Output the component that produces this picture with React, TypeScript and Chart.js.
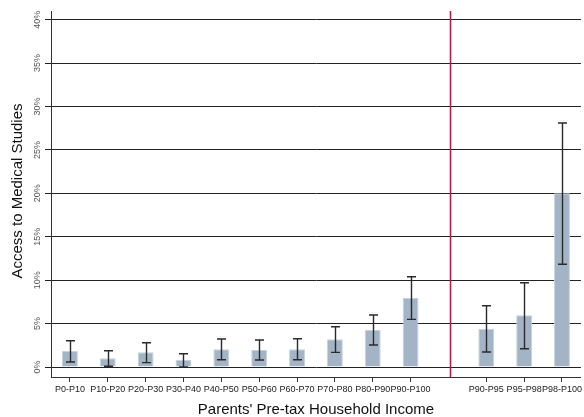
import React, { useEffect, useRef } from 'react';
import { Chart, registerables } from 'chart.js';

Chart.register(...registerables);

const categories = ['P0-P10', 'P10-P20', 'P20-P30', 'P30-P40', 'P40-P50', 'P50-P60', 'P60-P70', 'P70-P80', 'P80-P90', 'P90-P100', '', 'P90-P95', 'P95-P98', 'P98-P100'];
const values = [1.84, 1.0, 1.69, 0.8, 2.04, 1.96, 2.04, 3.19, 4.26, 7.98, null, 4.41, 5.95, 20.0];
const lower = [0.58, 0.08, 0.5, 0.0, 0.84, 0.8, 0.84, 1.69, 2.53, 5.49, null, 1.73, 2.11, 11.83];
const upper = [3.03, 1.88, 2.8, 1.53, 3.22, 3.11, 3.26, 4.64, 5.99, 10.4, null, 7.06, 9.71, 28.1];
const yTicks = [0, 5, 10, 15, 20, 25, 30, 35, 40];
const yTitle = 'Access to Medical Studies';
const xTitle = "Parents' Pre-tax Household Income";
const separatorIndex = 10;

const FONT = '"Liberation Sans", Arial, Helvetica, sans-serif';

const customPlugin = {
  id: 'custom',
  afterDatasetsDraw(chart: any) {
    const { ctx, chartArea } = chart;
    const xs = chart.scales.x;
    const ys = chart.scales.y;
    ctx.save();
    // error bars
    ctx.strokeStyle = '#2a2a2a';
    ctx.lineWidth = 1.4;
    for (let i = 0; i < categories.length; i++) {
      const lo = lower[i];
      const hi = upper[i];
      if (lo === null || hi === null) continue;
      const x = Math.round(xs.getPixelForValue(i)) + 0.5;
      const y1 = ys.getPixelForValue(lo);
      const y2 = ys.getPixelForValue(hi);
      ctx.beginPath();
      ctx.moveTo(x, y1);
      ctx.lineTo(x, y2);
      ctx.moveTo(x - 4.5, y1);
      ctx.lineTo(x + 4.5, y1);
      ctx.moveTo(x - 4.5, y2);
      ctx.lineTo(x + 4.5, y2);
      ctx.stroke();
    }
    // separator line
    const sx = Math.round(xs.getPixelForValue(separatorIndex) + 2) + 0.5;
    ctx.strokeStyle = '#b8163c';
    ctx.lineWidth = 1.5;
    ctx.beginPath();
    ctx.moveTo(sx, chartArea.top);
    ctx.lineTo(sx, chartArea.bottom);
    ctx.stroke();
    ctx.restore();
  },
  afterDraw(chart: any) {
    const { ctx, chartArea } = chart;
    const ys = chart.scales.y;
    ctx.save();
    // y tick labels rotated
    ctx.fillStyle = '#555555';
    ctx.font = `9px ${FONT}`;
    ctx.textAlign = 'center';
    ctx.textBaseline = 'middle';
    for (const v of yTicks) {
      const y = ys.getPixelForValue(v);
      ctx.save();
      ctx.translate(38, y);
      ctx.rotate(-Math.PI / 2);
      ctx.fillText(v + '%', 0, 0);
      ctx.restore();
    }
    // y title
    ctx.fillStyle = '#111111';
    ctx.font = `15px ${FONT}`;
    ctx.save();
    ctx.translate(18, (chartArea.top + chartArea.bottom) / 2 - 3);
    ctx.rotate(-Math.PI / 2);
    ctx.fillText(yTitle, 0, 0);
    ctx.restore();
    // x title
    ctx.fillText(xTitle, (chartArea.left + chartArea.right) / 2, chartArea.bottom + 33);
    ctx.restore();
  },
};

export default function App() {
  const ref = useRef<HTMLCanvasElement>(null);
  useEffect(() => {
    document.body.style.margin = '0';
    const canvas = ref.current!;
    const chart = new Chart(canvas, {
      type: 'bar',
      data: {
        labels: categories,
        datasets: [
          {
            data: values as any,
            backgroundColor: '#a3b4c6',
            borderColor: '#c6d2de',
            borderWidth: 1,
            categoryPercentage: 1,
            barPercentage: 0.42,
          },
        ],
      },
      options: {
        responsive: false,
        animation: false,
        devicePixelRatio: 1,
        layout: { padding: { top: 11, right: 0, left: 0, bottom: 0 } },
        plugins: { legend: { display: false }, tooltip: { enabled: false } },
        scales: {
          x: {
            type: 'category',
            offset: true,
            grid: {
              display: true,
              drawOnChartArea: false,
              drawTicks: true,
              tickLength: 5,
              offset: false,
              color: (c: any) => (c.tick && c.tick.label === '' ? 'rgba(0,0,0,0)' : '#333333'),
            },
            border: { display: true, color: '#333333', width: 1 },
            ticks: {
              autoSkip: false,
              maxRotation: 0,
              minRotation: 0,
              padding: 2,
              color: '#222222',
              font: { family: FONT, size: 9 },
            },
            afterFit: (s: any) => {
              s.height = 40;
            },
          },
          y: {
            min: -1.15,
            max: 41.0,
            grid: {
              color: '#222222',
              lineWidth: 1,
              drawTicks: true,
              tickLength: 6,
            },
            border: { display: true, color: '#333333', width: 1 },
            ticks: { display: false },
            afterBuildTicks: (s: any) => {
              s.ticks = yTicks.map((v) => ({ value: v }));
            },
            afterFit: (s: any) => {
              s.width = 51;
            },
          },
        },
      },
      plugins: [customPlugin],
    });
    return () => chart.destroy();
  }, []);
  return <canvas ref={ref} width={584} height={417} style={{ display: 'block' }} />;
}
